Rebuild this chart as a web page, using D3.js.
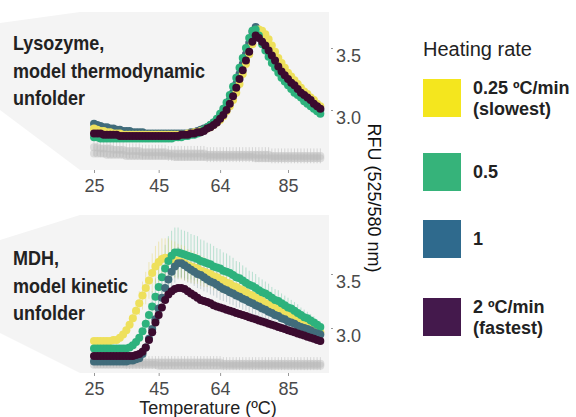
<html lang="en">
  <head>
    <meta charset="UTF-8" />
    <title>Heating rate</title>
    <style>
      * {
        box-sizing: border-box;
        margin: 0;
        padding: 0;
      }
      body {
        background: #ffffff;
        font-family: "Liberation Sans", Arial, Helvetica, sans-serif;
      }
    </style>
  </head>
  <body>
    <svg id="chart" width="576" height="417"></svg>

    <script src="https://d3js.org/d3.v7.min.js"></script>
    <script>
      // temperatures (ºC), one reading per degree
      const temps = [
        25, 26, 27, 28, 29, 30, 31, 32, 33, 34, 35, 36, 37, 38, 39, 40, 41, 42,
        43, 44, 45, 46, 47, 48, 49, 50, 51, 52, 53, 54, 55, 56, 57, 58, 59, 60,
        61, 62, 63, 64, 65, 66, 67, 68, 69, 70, 71, 72, 73, 74, 75, 76, 77, 78,
        79, 80, 81, 82, 83, 84, 85, 86, 87, 88, 89, 90, 91, 92, 93, 94, 95,
      ];
      const xTicks = [25, 45, 64, 85];
      const yTicks = [3.0, 3.5];

      const rates = ["0.25 ºC/min", "0.5", "1", "2 ºC/min"];
      const rateNotes = ["(slowest)", "", "", "(fastest)"];

      // ---- lysozyme (top panel) ----
      const lysoSlow = [
        2.85, 2.84, 2.83, 2.83, 2.82, 2.82, 2.81, 2.81, 2.81, 2.80,
        2.80, 2.80, 2.80, 2.80, 2.80, 2.80, 2.80, 2.80, 2.80, 2.80,
        2.80, 2.80, 2.80, 2.80, 2.80, 2.80, 2.80, 2.80, 2.80, 2.81,
        2.81, 2.82, 2.82, 2.83, 2.84, 2.85, 2.86, 2.88, 2.90, 2.92,
        2.95, 2.99, 3.03, 3.08, 3.14, 3.21, 3.29, 3.37, 3.45, 3.53,
        3.60, 3.65, 3.64, 3.61, 3.57, 3.52, 3.47, 3.42, 3.38, 3.34,
        3.30, 3.27, 3.24, 3.21, 3.18, 3.15, 3.13, 3.10, 3.08, 3.05,
        3.03,
      ];
      const lysoHalf = [
        2.78, 2.78, 2.77, 2.77, 2.77, 2.77, 2.77, 2.77, 2.77, 2.77,
        2.77, 2.77, 2.77, 2.77, 2.77, 2.77, 2.77, 2.77, 2.77, 2.77,
        2.77, 2.77, 2.77, 2.77, 2.77, 2.78, 2.78, 2.78, 2.79, 2.79,
        2.80, 2.80, 2.81, 2.82, 2.84, 2.86, 2.88, 2.90, 2.93, 2.97,
        3.01, 3.06, 3.12, 3.19, 3.26, 3.34, 3.42, 3.50, 3.58, 3.64,
        3.65, 3.60, 3.53, 3.48, 3.43, 3.38, 3.34, 3.30, 3.26, 3.23,
        3.20, 3.17, 3.14, 3.12, 3.10, 3.07, 3.05, 3.03, 3.01, 2.99,
        2.97,
      ];
      const lysoOne = [
        2.89, 2.88, 2.87, 2.86, 2.86, 2.85, 2.85, 2.84, 2.84, 2.83,
        2.83, 2.83, 2.82, 2.82, 2.82, 2.82, 2.81, 2.81, 2.81, 2.81,
        2.81, 2.81, 2.81, 2.81, 2.81, 2.81, 2.81, 2.81, 2.81, 2.81,
        2.82, 2.82, 2.83, 2.84, 2.85, 2.86, 2.88, 2.90, 2.92, 2.95,
        2.99, 3.03, 3.08, 3.14, 3.21, 3.29, 3.37, 3.45, 3.54, 3.63,
        3.67, 3.63, 3.57, 3.52, 3.47, 3.43, 3.38, 3.34, 3.30, 3.27,
        3.24, 3.21, 3.18, 3.16, 3.13, 3.11, 3.09, 3.06, 3.04, 3.02,
        3.00,
      ];
      const lysoFast = [
        2.81, 2.81, 2.81, 2.80, 2.80, 2.80, 2.80, 2.80, 2.79, 2.79,
        2.79, 2.79, 2.79, 2.79, 2.79, 2.79, 2.79, 2.79, 2.79, 2.79,
        2.79, 2.79, 2.79, 2.79, 2.79, 2.79, 2.79, 2.80, 2.80, 2.80,
        2.81, 2.81, 2.82, 2.82, 2.83, 2.85, 2.86, 2.88, 2.90, 2.93,
        2.96, 3.00, 3.05, 3.11, 3.18, 3.25, 3.32, 3.40, 3.47, 3.55,
        3.60, 3.58, 3.55, 3.52, 3.48, 3.44, 3.40, 3.35, 3.31, 3.28,
        3.25, 3.22, 3.20, 3.17, 3.14, 3.12, 3.10, 3.08, 3.05, 3.03,
        3.01,
      ];
      // controls without protein (grey)
      const lysoCtrlA = [
        2.70, 2.70, 2.69, 2.69, 2.69, 2.69, 2.68, 2.68, 2.68, 2.68,
        2.67, 2.67, 2.67, 2.67, 2.67, 2.66, 2.66, 2.66, 2.66, 2.66,
        2.66, 2.66, 2.66, 2.65, 2.65, 2.65, 2.65, 2.65, 2.65, 2.65,
        2.65, 2.65, 2.65, 2.65, 2.65, 2.64, 2.64, 2.64, 2.64, 2.64,
        2.64, 2.64, 2.64, 2.64, 2.64, 2.64, 2.64, 2.64, 2.64, 2.64,
        2.64, 2.64, 2.64, 2.64, 2.64, 2.63, 2.63, 2.63, 2.63, 2.63,
        2.63, 2.63, 2.63, 2.63, 2.63, 2.63, 2.63, 2.63, 2.63, 2.63,
        2.63,
      ];
      const lysoCtrlB = [
        2.65, 2.65, 2.65, 2.65, 2.64, 2.64, 2.64, 2.64, 2.64, 2.64,
        2.63, 2.63, 2.63, 2.63, 2.63, 2.63, 2.63, 2.63, 2.63, 2.63,
        2.63, 2.63, 2.63, 2.63, 2.63, 2.62, 2.62, 2.62, 2.62, 2.62,
        2.62, 2.62, 2.62, 2.62, 2.62, 2.62, 2.62, 2.62, 2.62, 2.62,
        2.62, 2.62, 2.62, 2.62, 2.62, 2.62, 2.62, 2.62, 2.62, 2.62,
        2.61, 2.61, 2.61, 2.61, 2.61, 2.61, 2.61, 2.61, 2.61, 2.61,
        2.61, 2.61, 2.61, 2.61, 2.61, 2.61, 2.61, 2.61, 2.61, 2.61,
        2.61,
      ];
      const lysoCtrlSd = [
        0.07, 0.07, 0.07, 0.07, 0.07, 0.07, 0.06, 0.06, 0.06, 0.06,
        0.06, 0.06, 0.06, 0.06, 0.06, 0.06, 0.06, 0.06, 0.06, 0.06,
        0.06, 0.06, 0.06, 0.06, 0.06, 0.06, 0.06, 0.06, 0.06, 0.06,
        0.06, 0.06, 0.06, 0.06, 0.06, 0.06, 0.06, 0.06, 0.06, 0.06,
        0.06, 0.06, 0.06, 0.06, 0.06, 0.06, 0.06, 0.06, 0.06, 0.06,
        0.06, 0.06, 0.06, 0.06, 0.06, 0.06, 0.06, 0.06, 0.06, 0.06,
        0.06, 0.06, 0.06, 0.06, 0.06, 0.06, 0.06, 0.06, 0.06, 0.06,
        0.06,
      ];

      // ---- MDH (bottom panel) ----
      const mdhSlow = [
        2.88, 2.88, 2.88, 2.88, 2.88, 2.88, 2.89, 2.89, 2.91, 2.94,
        2.98, 3.03, 3.09, 3.16, 3.23, 3.30, 3.37, 3.44, 3.51, 3.57,
        3.61, 3.64, 3.65, 3.65, 3.64, 3.63, 3.62, 3.61, 3.60, 3.58,
        3.57, 3.56, 3.55, 3.53, 3.52, 3.51, 3.50, 3.48, 3.47, 3.45,
        3.44, 3.42, 3.41, 3.39, 3.38, 3.36, 3.35, 3.33, 3.31, 3.30,
        3.28, 3.27, 3.25, 3.23, 3.22, 3.20, 3.19, 3.17, 3.15, 3.14,
        3.12, 3.10, 3.09, 3.07, 3.06, 3.04, 3.02, 3.01, 2.99, 2.98,
        2.96,
      ];
      const mdhHalf = [
        2.81, 2.81, 2.81, 2.81, 2.81, 2.81, 2.81, 2.81, 2.81, 2.81,
        2.81, 2.82, 2.84, 2.87, 2.91, 2.97, 3.04, 3.12, 3.20, 3.29,
        3.38, 3.47, 3.55, 3.62, 3.67, 3.70, 3.70, 3.69, 3.68, 3.67,
        3.66, 3.65, 3.64, 3.62, 3.61, 3.60, 3.59, 3.57, 3.56, 3.55,
        3.53, 3.52, 3.51, 3.49, 3.47, 3.46, 3.44, 3.42, 3.40, 3.39,
        3.37, 3.35, 3.33, 3.32, 3.30, 3.28, 3.26, 3.25, 3.23, 3.21,
        3.19, 3.18, 3.16, 3.14, 3.12, 3.10, 3.09, 3.07, 3.05, 3.03,
        3.01,
      ];
      const mdhOne = [
        2.69, 2.69, 2.69, 2.69, 2.69, 2.69, 2.69, 2.69, 2.69, 2.69,
        2.69, 2.70, 2.70, 2.71, 2.72, 2.76, 2.82, 2.90, 2.99, 3.08,
        3.18, 3.28, 3.37, 3.45, 3.52, 3.57, 3.60, 3.60, 3.58, 3.56,
        3.54, 3.52, 3.50, 3.49, 3.47, 3.45, 3.43, 3.42, 3.40, 3.38,
        3.36, 3.35, 3.33, 3.32, 3.30, 3.29, 3.27, 3.26, 3.24, 3.23,
        3.21, 3.20, 3.18, 3.17, 3.15, 3.14, 3.12, 3.11, 3.09, 3.08,
        3.06, 3.05, 3.04, 3.02, 3.01, 3.00, 2.99, 2.98, 2.96, 2.95,
        2.94,
      ];
      const mdhFast = [
        2.74, 2.74, 2.74, 2.74, 2.74, 2.74, 2.74, 2.74, 2.74, 2.74,
        2.74, 2.74, 2.74, 2.75, 2.76, 2.78, 2.82, 2.89, 2.96, 3.05,
        3.12, 3.19, 3.26, 3.31, 3.34, 3.36, 3.37, 3.37, 3.36, 3.34,
        3.32, 3.30, 3.28, 3.26, 3.25, 3.24, 3.23, 3.21, 3.20, 3.19,
        3.18, 3.17, 3.16, 3.15, 3.14, 3.13, 3.12, 3.11, 3.10, 3.09,
        3.08, 3.07, 3.06, 3.05, 3.04, 3.03, 3.02, 3.01, 3.00, 2.99,
        2.98, 2.97, 2.96, 2.95, 2.94, 2.93, 2.92, 2.91, 2.90, 2.89,
        2.88,
      ];
      const mdhSlowSd = [
        0.03, 0.03, 0.03, 0.03, 0.03, 0.03, 0.03, 0.03, 0.03, 0.03,
        0.04, 0.05, 0.07, 0.09, 0.11, 0.13, 0.15, 0.17, 0.18, 0.19,
        0.19, 0.19, 0.18, 0.18, 0.17, 0.17, 0.16, 0.16, 0.16, 0.15,
        0.15, 0.15, 0.14, 0.14, 0.14, 0.13, 0.13, 0.13, 0.12, 0.12,
        0.12, 0.11, 0.11, 0.11, 0.10, 0.10, 0.10, 0.09, 0.09, 0.09,
        0.08, 0.08, 0.08, 0.08, 0.08, 0.07, 0.07, 0.07, 0.07, 0.07,
        0.06, 0.06, 0.06, 0.06, 0.06, 0.06, 0.05, 0.05, 0.05, 0.05,
        0.05,
      ];
      const mdhHalfSd = [
        0.03, 0.03, 0.03, 0.03, 0.03, 0.03, 0.03, 0.03, 0.03, 0.03,
        0.03, 0.03, 0.03, 0.03, 0.03, 0.05, 0.08, 0.11, 0.14, 0.17,
        0.19, 0.21, 0.22, 0.23, 0.23, 0.23, 0.23, 0.22, 0.22, 0.22,
        0.21, 0.21, 0.21, 0.20, 0.20, 0.19, 0.19, 0.19, 0.18, 0.18,
        0.17, 0.17, 0.16, 0.16, 0.15, 0.15, 0.14, 0.14, 0.13, 0.13,
        0.13, 0.12, 0.12, 0.11, 0.11, 0.10, 0.10, 0.10, 0.09, 0.09,
        0.09, 0.08, 0.08, 0.08, 0.07, 0.07, 0.06, 0.06, 0.06, 0.05,
        0.05,
      ];
      const mdhOneSd = [
        0.03, 0.03, 0.03, 0.03, 0.03, 0.03, 0.03, 0.03, 0.03, 0.03,
        0.03, 0.03, 0.03, 0.03, 0.03, 0.04, 0.06, 0.08, 0.10, 0.12,
        0.13, 0.14, 0.15, 0.15, 0.15, 0.15, 0.15, 0.14, 0.14, 0.14,
        0.13, 0.13, 0.13, 0.13, 0.13, 0.12, 0.12, 0.12, 0.12, 0.12,
        0.11, 0.11, 0.11, 0.11, 0.11, 0.10, 0.10, 0.10, 0.10, 0.10,
        0.09, 0.09, 0.09, 0.09, 0.09, 0.08, 0.08, 0.08, 0.08, 0.08,
        0.07, 0.07, 0.07, 0.07, 0.07, 0.07, 0.06, 0.06, 0.06, 0.06,
        0.06,
      ];
      const mdhCtrlA = [
        2.69, 2.69, 2.69, 2.69, 2.69, 2.69, 2.69, 2.69, 2.69, 2.69,
        2.68, 2.68, 2.68, 2.68, 2.68, 2.68, 2.68, 2.68, 2.68, 2.68,
        2.68, 2.68, 2.68, 2.68, 2.68, 2.68, 2.68, 2.68, 2.68, 2.68,
        2.68, 2.68, 2.68, 2.68, 2.68, 2.68, 2.68, 2.68, 2.68, 2.68,
        2.67, 2.67, 2.67, 2.67, 2.67, 2.67, 2.67, 2.67, 2.67, 2.67,
        2.67, 2.67, 2.67, 2.67, 2.67, 2.67, 2.67, 2.67, 2.67, 2.67,
        2.67, 2.67, 2.67, 2.67, 2.67, 2.67, 2.67, 2.67, 2.67, 2.67,
        2.67,
      ];
      const mdhCtrlB = [
        2.66, 2.66, 2.66, 2.66, 2.66, 2.66, 2.66, 2.66, 2.66, 2.66,
        2.66, 2.66, 2.66, 2.66, 2.66, 2.66, 2.66, 2.66, 2.66, 2.66,
        2.65, 2.65, 2.65, 2.65, 2.65, 2.65, 2.65, 2.65, 2.65, 2.65,
        2.65, 2.65, 2.65, 2.65, 2.65, 2.65, 2.65, 2.65, 2.65, 2.65,
        2.65, 2.65, 2.65, 2.65, 2.65, 2.65, 2.65, 2.65, 2.65, 2.65,
        2.65, 2.65, 2.65, 2.65, 2.65, 2.65, 2.65, 2.65, 2.65, 2.65,
        2.65, 2.65, 2.65, 2.65, 2.65, 2.65, 2.65, 2.65, 2.65, 2.65,
        2.65,
      ];
      const mdhCtrlSd = [
        0.06, 0.06, 0.06, 0.06, 0.06, 0.06, 0.06, 0.06, 0.06, 0.06,
        0.06, 0.06, 0.06, 0.06, 0.06, 0.06, 0.06, 0.06, 0.06, 0.06,
        0.06, 0.06, 0.06, 0.06, 0.06, 0.06, 0.06, 0.06, 0.06, 0.06,
        0.06, 0.06, 0.06, 0.06, 0.06, 0.06, 0.06, 0.06, 0.06, 0.06,
        0.06, 0.06, 0.06, 0.06, 0.06, 0.06, 0.06, 0.06, 0.06, 0.06,
        0.06, 0.06, 0.06, 0.06, 0.06, 0.06, 0.06, 0.06, 0.06, 0.06,
        0.06, 0.06, 0.06, 0.06, 0.06, 0.06, 0.06, 0.06, 0.06, 0.06,
        0.06,
      ];

      // colours: legend (viridis) and points (a bit muted)
      const legendColors = ["#f4e61e", "#36b37a", "#2f6a8d", "#44194c"];
      const dotColors = ["#eee05c", "#2db27d", "#416c7b", "#3b0b2f"];
      const greyDot = "#bdbdbd";

      const svg = d3.select("#chart");

      // shared x scale
      const x = d3.scaleLinear().domain([25, 85]).range([94, 288]);
      const yTop = d3.scaleLinear().domain([3.0, 3.5]).range([110, 48]);
      const yBot = d3.scaleLinear().domain([3.0, 3.5]).range([328, 274]);

      // panel backgrounds (callout shapes)
      function panelBg(top, bottom, leftTop, leftBottom) {
        const pts = [
          [0, leftTop],
          [80, top],
          [329, top],
          [329, bottom],
          [80, bottom],
          [0, leftBottom],
        ];
        svg
          .append("path")
          .attr("d", d3.line()(pts) + "Z")
          .attr("fill", "#f4f4f4");
      }
      panelBg(12, 170, 23, 110);
      panelBg(215, 373, 240, 333);

      // helpers
      function pts(vals, sd) {
        return temps.map((t, i) => ({ t: t, v: vals[i], sd: sd ? sd[i] : 0 }));
      }

      function errorBars(g, y, vals, sd, color, op) {
        g.append("g")
          .selectAll("line")
          .data(pts(vals, sd))
          .enter()
          .append("line")
          .attr("x1", (d) => x(d.t))
          .attr("x2", (d) => x(d.t))
          .attr("y1", (d) => y(d.v - d.sd))
          .attr("y2", (d) => y(d.v + d.sd))
          .attr("stroke", color)
          .attr("stroke-opacity", op)
          .attr("stroke-width", 1);
      }

      function dots(g, y, vals, color, op) {
        g.append("g")
          .selectAll("circle")
          .data(pts(vals))
          .enter()
          .append("circle")
          .attr("cx", (d) => x(d.t))
          .attr("cy", (d) => y(d.v))
          .attr("r", 4)
          .attr("fill", color)
          .attr("fill-opacity", op);
      }

      function axes(y, axisY) {
        const ax = svg
          .append("g")
          .attr("transform", `translate(0,${axisY})`)
          .call(d3.axisBottom(x).tickValues(xTicks).tickSize(3).tickPadding(6));
        ax.select(".domain").remove();
        ax.selectAll("line").attr("stroke", "#999");
        ax.selectAll("text")
          .attr("font-size", 18)
          .attr("font-family", "Liberation Sans, Arial, sans-serif")
          .attr("fill", "#4a4a4a");

        const ay = svg
          .append("g")
          .attr("transform", "translate(331,0)")
          .call(
            d3
              .axisRight(y)
              .tickValues(yTicks)
              .tickFormat(d3.format(".1f"))
              .tickSize(2)
              .tickPadding(3)
          );
        ay.select(".domain").remove();
        ay.selectAll("line").attr("stroke", "#999");
        ay.selectAll("text")
          .attr("y", 8)
          .attr("font-size", 18)
          .attr("font-family", "Liberation Sans, Arial, sans-serif")
          .attr("fill", "#4a4a4a");
      }

      // ---- top panel ----
      const gTop = svg.append("g");
      errorBars(gTop, yTop, lysoCtrlA, lysoCtrlSd, "#c8c8c8", 0.7);
      dots(gTop, yTop, lysoCtrlB, greyDot, 0.45);
      dots(gTop, yTop, lysoCtrlA, greyDot, 0.45);
      dots(gTop, yTop, lysoOne, dotColors[2], 1);
      dots(gTop, yTop, lysoSlow, dotColors[0], 1);
      dots(gTop, yTop, lysoHalf, dotColors[1], 1);
      dots(gTop, yTop, lysoFast, dotColors[3], 1);
      axes(yTop, 170);

      // ---- bottom panel ----
      const gBot = svg.append("g");
      errorBars(gBot, yBot, mdhCtrlA, mdhCtrlSd, "#c8c8c8", 0.7);
      errorBars(gBot, yBot, mdhHalf, mdhHalfSd, dotColors[1], 0.3);
      errorBars(gBot, yBot, mdhSlow, mdhSlowSd, "#e3d35a", 0.4);
      errorBars(gBot, yBot, mdhOne, mdhOneSd, dotColors[2], 0.25);
      dots(gBot, yBot, mdhCtrlB, greyDot, 0.45);
      dots(gBot, yBot, mdhCtrlA, greyDot, 0.45);
      dots(gBot, yBot, mdhSlow, dotColors[0], 1);
      dots(gBot, yBot, mdhHalf, dotColors[1], 1);
      dots(gBot, yBot, mdhOne, dotColors[2], 1);
      dots(gBot, yBot, mdhFast, dotColors[3], 1);
      axes(yBot, 373);

      // panel titles
      function title(lines, y0) {
        lines.forEach((s, i) => {
          svg
            .append("text")
            .attr("transform", `translate(13,${y0 + i * 27.5}) scale(0.9,1)`)
            .attr("font-size", 20)
            .attr("font-weight", "bold")
            .attr("fill", "#222")
            .text(s);
        });
      }
      title(["Lysozyme,", "model thermodynamic", "unfolder"], 50);
      title(["MDH,", "model kinetic", "unfolder"], 265);

      // axis titles
      svg
        .append("text")
        .attr("x", 208)
        .attr("y", 414)
        .attr("text-anchor", "middle")
        .attr("font-size", 18)
        .attr("fill", "#222")
        .text("Temperature (ºC)");

      svg
        .append("text")
        .attr("transform", "translate(368,198) rotate(90)")
        .attr("text-anchor", "middle")
        .attr("font-size", 18)
        .attr("fill", "#111")
        .text("RFU (525/580 nm)");

      // legend
      const legend = svg.append("g");
      legend
        .append("text")
        .attr("x", 423)
        .attr("y", 56)
        .attr("font-size", 20)
        .attr("fill", "#222")
        .text("Heating rate");

      const swatchY = [79, 153, 220, 298];
      rates.forEach((r, i) => {
        legend
          .append("rect")
          .attr("x", 423)
          .attr("y", swatchY[i])
          .attr("width", 38)
          .attr("height", 38)
          .attr("fill", legendColors[i]);
        const two = rateNotes[i] !== "";
        const base = two ? swatchY[i] + 15 : swatchY[i] + 25;
        legend
          .append("text")
          .attr("x", 473)
          .attr("y", base)
          .attr("font-size", 18)
          .attr("font-weight", "bold")
          .attr("fill", "#222")
          .text(r);
        if (two) {
          legend
            .append("text")
            .attr("x", 473)
            .attr("y", base + 21)
            .attr("font-size", 18)
            .attr("font-weight", "bold")
            .attr("fill", "#222")
            .text(rateNotes[i]);
        }
      });
    </script>
  </body>
</html>
